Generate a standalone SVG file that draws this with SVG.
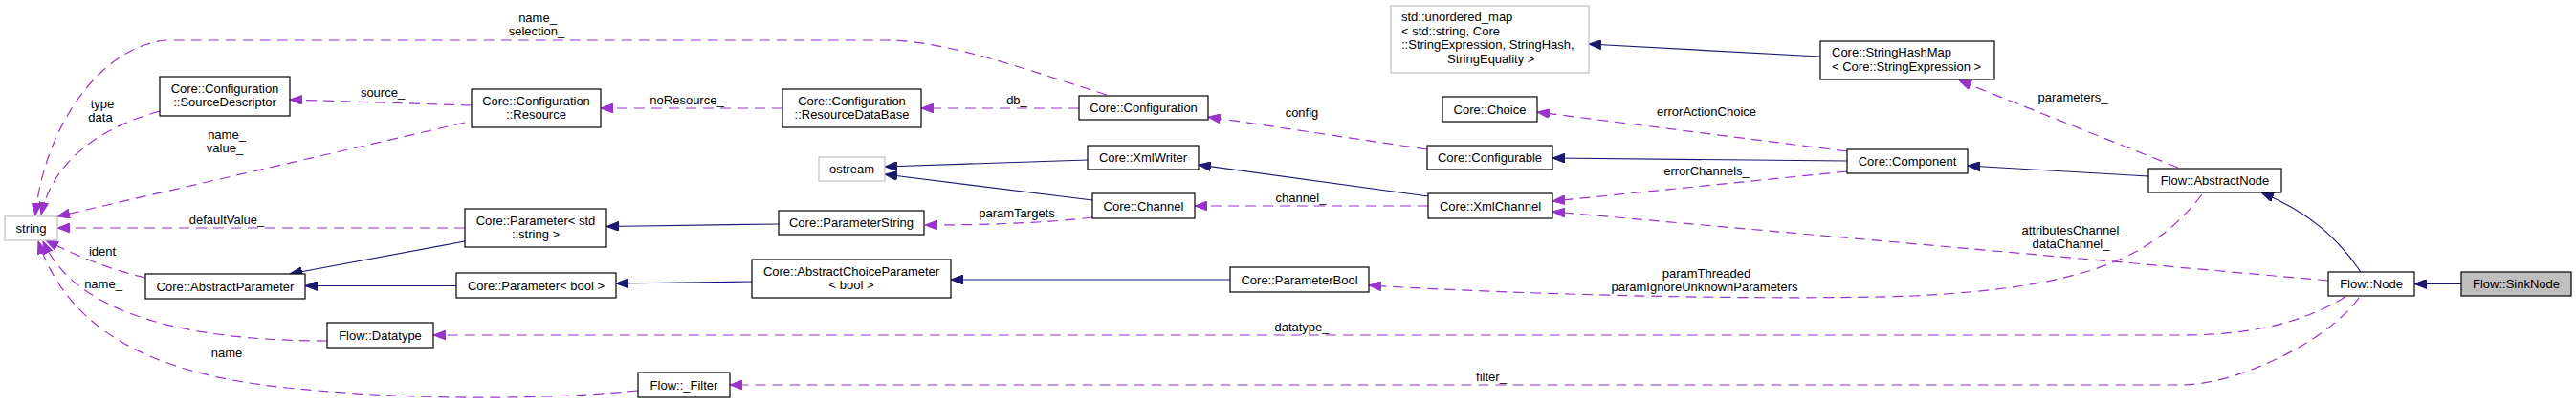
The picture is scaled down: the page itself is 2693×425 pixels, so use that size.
<svg xmlns="http://www.w3.org/2000/svg" width="2693" height="425" viewBox="0 0 2693 425">
<style>
  .n rect{fill:#ffffff;stroke:#000000;stroke-width:1.2}
  .n.ext rect{stroke:#bfbfbf}
  .n.cur rect{fill:#bfbfbf}
  text{font-family:"Liberation Sans",Arial,sans-serif;font-size:13px;fill:#000000}
  .n text{text-anchor:middle}
  .n text.l{text-anchor:start}
  .lbl{text-anchor:middle}
  .inh{fill:none;stroke:#191970;stroke-width:1.2}
  .use{fill:none;stroke:#9a32cd;stroke-width:1.2;stroke-dasharray:11,7}
</style>
<defs>
  <marker id="ah" viewBox="0 0 13 10" refX="13" refY="5" markerWidth="13" markerHeight="10" markerUnits="userSpaceOnUse" orient="auto">
    <path d="M0,0 L13,5 L0,10 z" fill="#191970" stroke="#191970" stroke-width="1"/>
  </marker>
  <marker id="au" viewBox="0 0 13 10" refX="13" refY="5" markerWidth="13" markerHeight="10" markerUnits="userSpaceOnUse" orient="auto">
    <path d="M0,0 L13,5 L0,10 z" fill="#9a32cd" stroke="#9a32cd" stroke-width="1"/>
  </marker>
</defs>
<rect x="0" y="0" width="2693" height="425" fill="#ffffff"/>

<g id="connectors">
  <!-- inheritance -->
  <path class="inh" marker-end="url(#ah)" d="M2573,296.5 L2524,296.5"/>
  <path class="inh" marker-end="url(#ah)" d="M2468,284 C2445,250 2415,222 2364,201"/>
  <path class="inh" marker-end="url(#ah)" d="M2246,184 L2057,173"/>
  <path class="inh" marker-end="url(#ah)" d="M1931,168 L1623,165"/>
  <path class="inh" marker-end="url(#ah)" d="M1493,205 L1253,172"/>
  <path class="inh" marker-end="url(#ah)" d="M1137,167 L925,174"/>
  <path class="inh" marker-end="url(#ah)" d="M1142,209 L925,182"/>
  <path class="inh" marker-end="url(#ah)" d="M1903,59 L1661,46"/>
  <path class="inh" marker-end="url(#ah)" d="M814,234 L634,236.5"/>
  <path class="inh" marker-end="url(#ah)" d="M786,294 L644,296"/>
  <path class="inh" marker-end="url(#ah)" d="M1286,292 L994,292"/>
  <path class="inh" marker-end="url(#ah)" d="M477,298.5 L319,298.5"/>
  <path class="inh" marker-end="url(#ah)" d="M486,252 L303,286"/>
  <!-- usage -->
  <path class="use" marker-end="url(#au)" d="M1157,99 C1080,75 990,42 927,42 L173,42 C100,50 45,140 37,225"/>
  <path class="use" marker-end="url(#au)" d="M167,116 C100,135 55,170 43,224"/>
  <path class="use" marker-end="url(#au)" d="M493,110 L303,104"/>
  <path class="use" marker-end="url(#au)" d="M486,128 L60,226"/>
  <path class="use" marker-end="url(#au)" d="M818,113 L628,113"/>
  <path class="use" marker-end="url(#au)" d="M1128,113 L963,113"/>
  <path class="use" marker-end="url(#au)" d="M486,238 L60,238"/>
  <path class="use" marker-end="url(#au)" d="M152,290 C110,280 80,267 48,251"/>
  <path class="use" marker-end="url(#au)" d="M342,356 C200,356 80,330 45,252"/>
  <path class="use" marker-end="url(#au)" d="M667,408 C560,418 430,418 300,405 C150,390 70,340 40,252"/>
  <path class="use" marker-end="url(#au)" d="M1142,227 C1093,233 1027,235 967,235"/>
  <path class="use" marker-end="url(#au)" d="M1492,156 L1263,122"/>
  <path class="use" marker-end="url(#au)" d="M1493,215 L1249,215"/>
  <path class="use" marker-end="url(#au)" d="M1931,158 L1607,117"/>
  <path class="use" marker-end="url(#au)" d="M1931,179 L1623,210"/>
  <path class="use" marker-end="url(#au)" d="M2434,293 L1623,221"/>
  <path class="use" marker-end="url(#au)" d="M2302,203 C2250,270 2180,300 2000,309 C1850,314 1600,308 1431,298"/>
  <path class="use" marker-end="url(#au)" d="M2277,175 L2048,84"/>
  <path class="use" marker-end="url(#au)" d="M2452,310 C2410,335 2360,350 2280,350 L453,350"/>
  <path class="use" marker-end="url(#au)" d="M2466,311 C2435,355 2340,402 2280,402 L763,402"/>
  <!-- labels -->
  <text class="lbl" x="562" y="23">name_</text>
  <text class="lbl" x="561" y="37">selection_</text>
  <text class="lbl" x="107" y="113">type</text>
  <text class="lbl" x="105" y="127">data</text>
  <text class="lbl" x="400" y="101">source_</text>
  <text class="lbl" x="237" y="145">name_</text>
  <text class="lbl" x="235" y="159">value_</text>
  <text class="lbl" x="718" y="109">noResource_</text>
  <text class="lbl" x="1063" y="109">db_</text>
  <text class="lbl" x="237" y="234">defaultValue_</text>
  <text class="lbl" x="107" y="267">ident</text>
  <text class="lbl" x="108" y="301">name_</text>
  <text class="lbl" x="237" y="373">name</text>
  <text class="lbl" x="1063" y="227">paramTargets</text>
  <text class="lbl" x="1361" y="122">config</text>
  <text class="lbl" x="1360" y="211">channel_</text>
  <text class="lbl" x="1361" y="346">datatype_</text>
  <text class="lbl" x="1784" y="121">errorActionChoice</text>
  <text class="lbl" x="1784" y="183">errorChannels_</text>
  <text class="lbl" x="1784" y="290">paramThreaded</text>
  <text class="lbl" x="1782" y="304">paramIgnoreUnknownParameters</text>
  <text class="lbl" x="1559" y="398">filter_</text>
  <text class="lbl" x="2167" y="106">parameters_</text>
  <text class="lbl" x="2168" y="245">attributesChannel_</text>
  <text class="lbl" x="2165" y="259">dataChannel_</text>
</g>

<g id="node-string" class="n ext"><rect x="5" y="226" width="55" height="25"/><text x="32.5" y="243">string</text></g>
<g id="node-sourcedescriptor" class="n"><rect x="167" y="80" width="136" height="41"/><text x="235" y="97">Core::Configuration</text><text x="235" y="111">::SourceDescriptor</text></g>
<g id="node-resource" class="n"><rect x="493" y="93" width="135" height="40"/><text x="560.5" y="110">Core::Configuration</text><text x="560.5" y="124">::Resource</text></g>
<g id="node-resourcedatabase" class="n"><rect x="818" y="93" width="145" height="40"/><text x="890.5" y="110">Core::Configuration</text><text x="890.5" y="124">::ResourceDataBase</text></g>
<g id="node-configuration" class="n"><rect x="1128" y="100" width="135" height="25"/><text x="1195.5" y="117">Core::Configuration</text></g>
<g id="node-unorderedmap" class="n ext"><rect x="1454" y="6" width="207" height="70"/><text class="l" x="1465" y="22">std::unordered_map</text><text class="l" x="1465" y="36.5">&lt; std::string, Core</text><text class="l" x="1465" y="51">::StringExpression, StringHash,</text><text class="l" x="1513" y="65.5">StringEquality &gt;</text></g>
<g id="node-stringhashmap" class="n"><rect x="1903" y="43" width="182" height="40"/><text class="l" x="1915" y="59">Core::StringHashMap</text><text class="l" x="1915" y="74">&lt; Core::StringExpression &gt;</text></g>
<g id="node-choice" class="n"><rect x="1508" y="101" width="99" height="26"/><text x="1557.5" y="118.5">Core::Choice</text></g>
<g id="node-configurable" class="n"><rect x="1492" y="152" width="131" height="25"/><text x="1557.5" y="169">Core::Configurable</text></g>
<g id="node-xmlwriter" class="n"><rect x="1137" y="152" width="116" height="25"/><text x="1195" y="169">Core::XmlWriter</text></g>
<g id="node-ostream" class="n ext"><rect x="856" y="164" width="69" height="25"/><text x="890.5" y="181">ostream</text></g>
<g id="node-channel" class="n"><rect x="1142" y="202" width="107" height="26"/><text x="1195.5" y="219.5">Core::Channel</text></g>
<g id="node-xmlchannel" class="n"><rect x="1493" y="202" width="130" height="26"/><text x="1558" y="219.5">Core::XmlChannel</text></g>
<g id="node-component" class="n"><rect x="1931" y="156" width="126" height="25"/><text x="1994" y="173">Core::Component</text></g>
<g id="node-abstractnode" class="n"><rect x="2246" y="176" width="139" height="25"/><text x="2315.5" y="193">Flow::AbstractNode</text></g>
<g id="node-parameterstring" class="n"><rect x="814" y="220" width="152" height="25"/><text x="890" y="237">Core::ParameterString</text></g>
<g id="node-parameter-string" class="n"><rect x="486" y="218" width="148" height="40"/><text x="560" y="235">Core::Parameter&lt; std</text><text x="560" y="249">::string &gt;</text></g>
<g id="node-abstractparameter" class="n"><rect x="152" y="286" width="167" height="26"/><text x="235.5" y="303.5">Core::AbstractParameter</text></g>
<g id="node-parameter-bool" class="n"><rect x="477" y="285" width="167" height="26"/><text x="560.5" y="302.5">Core::Parameter&lt; bool &gt;</text></g>
<g id="node-abstractchoiceparameter" class="n"><rect x="786" y="271" width="208" height="40"/><text x="890" y="288">Core::AbstractChoiceParameter</text><text x="890" y="302">&lt; bool &gt;</text></g>
<g id="node-parameterbool" class="n"><rect x="1286" y="279" width="145" height="26"/><text x="1358.5" y="296.5">Core::ParameterBool</text></g>
<g id="node-node" class="n"><rect x="2434" y="284" width="90" height="25"/><text x="2479" y="301">Flow::Node</text></g>
<g id="node-sinknode" class="n cur"><rect x="2573" y="284" width="115" height="25"/><text x="2630.5" y="301">Flow::SinkNode</text></g>
<g id="node-datatype" class="n"><rect x="342" y="337" width="111" height="26"/><text x="397.5" y="354.5">Flow::Datatype</text></g>
<g id="node-filter" class="n"><rect x="667" y="389" width="96" height="26"/><text x="715" y="406.5">Flow::_Filter</text></g>
</svg>
